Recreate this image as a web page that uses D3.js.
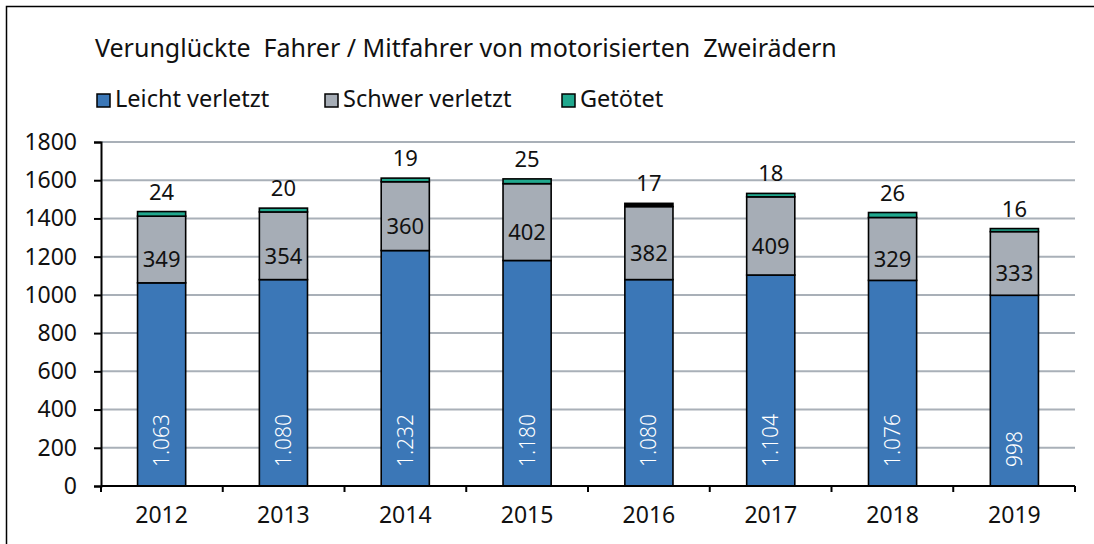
<!DOCTYPE html>
<html>
<head>
<meta charset="utf-8">
<script src="https://cdn.jsdelivr.net/npm/d3@7"></script>
<style>
  html, body { margin: 0; padding: 0; background: #fff; }
  svg { display: block; font-family: "Noto Sans", Lato, sans-serif; }
</style>
</head>
<body>
<svg id="chart" width="1094" height="544"></svg>
<script>
// Verunglückte Fahrer / Mitfahrer von motorisierten Zweirädern, 2012–2019
const years = ["2012", "2013", "2014", "2015", "2016", "2017", "2018", "2019"];
const leicht = [1063, 1080, 1232, 1180, 1080, 1104, 1076, 998];
const schwer = [349, 354, 360, 402, 382, 409, 329, 333];
const getoetet = [24, 20, 19, 25, 17, 18, 26, 16];
const yTicks = [0, 200, 400, 600, 800, 1000, 1200, 1400, 1600, 1800];
const seriesNames = ["Leicht verletzt", "Schwer verletzt", "Getötet"];
const seriesColors = ["#3b77b7", "#a6adb6", "#21a88e"];

const FONT = "'Noto Sans', Lato, sans-serif";
const svg = d3.select("#chart");
const margin = { left: 101, right: 1075, top: 142, bottom: 486 };

const x = d3.scaleBand().domain(years).range([margin.left, margin.right]).paddingInner(0.605).paddingOuter(0.3);
const y = d3.scaleLinear().domain([0, 1800]).range([margin.bottom, margin.top]);

// outer frame
svg.append("path")
  .attr("d", "M6.5,560 V6.5 H1100")
  .attr("fill", "none").attr("stroke", "#000").attr("stroke-width", 1.5);

// title
svg.append("text")
  .attr("x", 95).attr("y", 57)
  .attr("font-size", 25).attr("fill", "#111")
  .attr("xml:space", "preserve")
  .text("Verunglückte  Fahrer / Mitfahrer von motorisierten  Zweirädern");

// legend
const legendX = [97, 325, 562];
const legend = svg.append("g");
seriesNames.forEach((name, i) => {
  legend.append("rect")
    .attr("x", legendX[i]).attr("y", 94).attr("width", 13).attr("height", 13)
    .attr("fill", seriesColors[i]).attr("stroke", "#000").attr("stroke-width", 1.5);
  legend.append("text")
    .attr("x", legendX[i] + 18).attr("y", 107)
    .attr("font-size", 23.5).attr("fill", "#111")
    .text(name);
});

// grid lines
svg.append("g").selectAll("line")
  .data(yTicks.filter(d => d > 0))
  .join("line")
  .attr("x1", margin.left).attr("x2", margin.right)
  .attr("y1", d => y(d)).attr("y2", d => y(d))
  .attr("stroke", "#a9b0b8").attr("stroke-width", 2);

// stacked bars
const rows = years.map((yr, i) => ({ year: yr, leicht: leicht[i], schwer: schwer[i], getoetet: getoetet[i] }));
const keys = ["leicht", "schwer", "getoetet"];
const stacked = d3.stack().keys(keys)(rows);

stacked.forEach((layer, li) => {
  svg.append("g").selectAll("rect")
    .data(layer)
    .join("rect")
    .attr("x", d => x(d.data.year))
    .attr("width", x.bandwidth())
    .attr("y", d => y(d[1]))
    .attr("height", d => y(d[0]) - y(d[1]))
    .attr("fill", d => (li === 2 && d.data.year === "2016") ? "#000" : seriesColors[li])
    .attr("stroke", "#000").attr("stroke-width", 1.6);
});

// axes
const yAxis = svg.append("g").attr("transform", `translate(${margin.left},0)`)
  .call(d3.axisLeft(y).tickValues(yTicks).tickSize(7).tickPadding(17).tickFormat(d3.format("d")));
const xAxis = svg.append("g").attr("transform", `translate(0,${margin.bottom})`)
  .call(d3.axisBottom(x).tickSize(0).tickPadding(21));
[yAxis, xAxis].forEach(a => {
  a.select(".domain").attr("stroke", "#000").attr("stroke-width", 2);
  a.selectAll(".tick line").attr("stroke", "#000").attr("stroke-width", 2);
  a.selectAll("text").attr("font-size", 23).attr("fill", "#111").attr("font-family", FONT);
});
xAxis.select(".domain").attr("d", `M${margin.left},0H${margin.right}`);
// category boundary ticks below the x axis
xAxis.append("g").selectAll("line")
  .data(d3.range(years.length + 1))
  .join("line")
  .attr("x1", i => margin.left + i * (margin.right - margin.left) / years.length)
  .attr("x2", i => margin.left + i * (margin.right - margin.left) / years.length)
  .attr("y1", 0).attr("y2", 6)
  .attr("stroke", "#000").attr("stroke-width", 2);

const fmtDE = d3.formatLocale({ decimal: ",", thousands: ".", grouping: [3], currency: ["", " €"] }).format(",d");

// value labels: leicht verletzt (rotated, white)
svg.append("g").selectAll("text")
  .data(stacked[0])
  .join("text")
  .attr("transform", d => `translate(${x(d.data.year) + x.bandwidth() / 2},${y(0) - 19}) rotate(-90)`)
  .attr("dy", "0.36em")
  .attr("font-size", 21).attr("font-weight", 300).attr("fill", "#fff")
  .text(d => fmtDE(d.data.leicht));

// schwer verletzt
svg.append("g").selectAll("text")
  .data(stacked[1])
  .join("text")
  .attr("x", d => x(d.data.year) + x.bandwidth() / 2)
  .attr("y", d => (y(d[0]) + y(d[1])) / 2 + 10)
  .attr("dy", "0.36em")
  .attr("text-anchor", "middle")
  .attr("font-size", 22).attr("fill", "#111")
  .text(d => d.data.schwer);

// getötet
svg.append("g").selectAll("text")
  .data(stacked[2])
  .join("text")
  .attr("x", d => x(d.data.year) + x.bandwidth() / 2)
  .attr("y", d => y(d[1]) - 12)
  .attr("text-anchor", "middle")
  .attr("font-size", 22).attr("fill", "#111")
  .text(d => d.data.getoetet);
</script>
</body>
</html>
